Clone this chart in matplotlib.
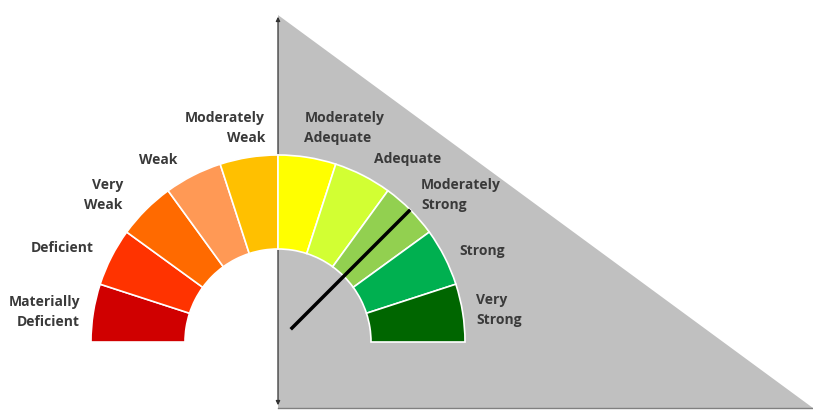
import matplotlib
matplotlib.use("Agg")
import matplotlib.pyplot as plt
from matplotlib.patches import Wedge, Polygon
import numpy as np

#%% data
categories = ["Materially\nDeficient", "Deficient", "Very\nWeak", "Weak",
              "Moderately\nWeak", "Moderately\nAdequate", "Adequate",
              "Moderately\nStrong", "Strong", "Very\nStrong"]
colors = ["#D00000", "#FF3300", "#FF6A00", "#FF9955", "#FFC000",
          "#FFFF00", "#D2FF33", "#92D050", "#00B050", "#006600"]
needle_value = 45.0   # degrees from the right end of the gauge

# layout (pixel-like data coords, y up)
cx, cy = 278, 70
r_out, r_in = 187, 93
label_r = [200, 207, 214, 208, 214, 216, 207, 205, 203, 201]
label_da = [0.4, 0, 1.5, 2, -5.5, 2, -0.6, 0.8, -0.4, 0.1]

fig = plt.figure(figsize=(8.13, 4.12), dpi=100)
ax = fig.add_axes([0, 0, 1, 1])
ax.set_xlim(0, 813)
ax.set_ylim(0, 412)
ax.axis("off")

# grey triangle background
tri = Polygon([[278, 397], [278, 4], [813, 4]], closed=True,
              facecolor="#C0C0C0", edgecolor="none", zorder=0)
ax.add_patch(tri)

# axes arrows
ax.annotate("", xy=(278, 398), xytext=(278, 4),
            arrowprops=dict(arrowstyle="<|-|>", color="#333333", lw=0.9,
                            mutation_scale=6), zorder=1)
ax.plot([278, 813], [4, 4], color="#808080", lw=1, zorder=1)

# gauge segments
n = len(categories)
step = 180.0 / n
for i, (lab, col) in enumerate(zip(categories, colors)):
    a1 = 180 - i * step
    a0 = a1 - step
    w = Wedge((cx, cy), r_out, a0, a1, width=r_out - r_in,
              facecolor=col, edgecolor="white", lw=1.2, zorder=2)
    ax.add_patch(w)
    mid = np.deg2rad((a0 + a1) / 2 + label_da[i])
    tx = cx + label_r[i] * np.cos(mid)
    ty = cy + label_r[i] * np.sin(mid)
    ha = "right" if (a0 + a1) / 2 > 90 else "left"
    ax.text(tx, ty, lab, ha=ha, va="center", fontsize=10,
            fontweight="bold", color="#3A3A3A", family="Open Sans",
            linespacing=1.55, zorder=3)

# needle
ang = np.deg2rad(needle_value)
ax.plot([cx + 18 * np.cos(ang), cx + r_out * np.cos(ang)],
        [cy + 18 * np.sin(ang), cy + r_out * np.sin(ang)],
        color="black", lw=2.5, solid_capstyle="butt", zorder=4)

fig.savefig("out.png", dpi=100)
